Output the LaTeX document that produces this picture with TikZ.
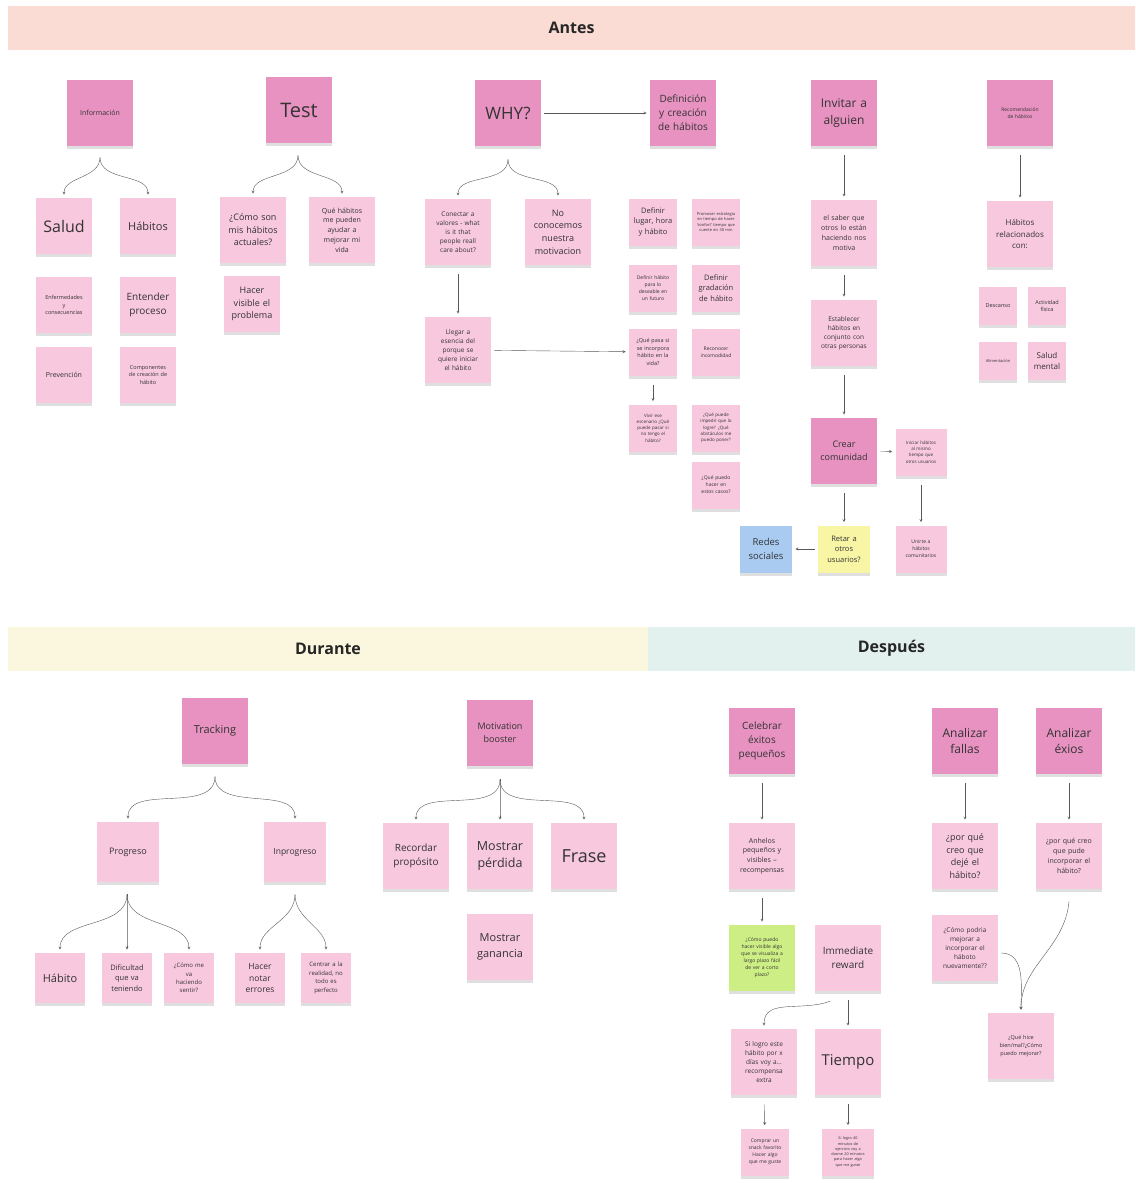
\documentclass[tikz,border=0pt]{standalone}
\usepackage{fontspec}
\setmainfont{Open Sans}
\usepackage{tikz}
\usetikzlibrary{arrows,positioning,calc,shadows}

\definecolor{hdrpink}{HTML}{E792C0}
\definecolor{lightpink}{HTML}{F8C8DE}
\definecolor{noteyellow}{HTML}{F8F5A5}
\definecolor{noteblue}{HTML}{A9CBF2}
\definecolor{notegreen}{HTML}{CDEE85}
\definecolor{antesbg}{HTML}{FADCD5}
\definecolor{durantebg}{HTML}{FBF7DF}
\definecolor{despuesbg}{HTML}{E3F1EE}

\newcommand{\fsz}[1]{\fontsize{#1}{\the\dimexpr #1pt*7/5\relax}\selectfont}

\begin{document}
\begin{tikzpicture}[x=1pt, y=-1pt, >=stealth, semithick]
\tikzstyle{note}=[fill=lightpink, minimum width=66pt, minimum height=66pt, text width=58pt, align=center, inner sep=2pt, text=black!80, drop shadow={opacity=0.25, shadow xshift=0pt, shadow yshift=-3pt}]
\tikzstyle{hnote}=[note, fill=hdrpink]
\tikzstyle{mid}=[note, minimum width=56pt, minimum height=56pt, text width=50pt]
\tikzstyle{small}=[note, minimum width=48pt, minimum height=47pt, text width=42pt]
\tikzstyle{tiny}=[note, minimum width=38pt, minimum height=38pt, text width=34pt]
\tikzstyle{banner}=[minimum height=44pt, font=\fsz{16}\bfseries, text=black!85]
\tikzstyle{flow}=[->, draw=black!65, thin, shorten <=9pt, shorten >=3pt]
\tikzstyle{side}=[->, draw=black!65, thin, shorten <=3pt, shorten >=3pt]
\tikzstyle{fork}=[->, draw=black!65, thin, out=-90, in=90, shorten >=3pt]

\useasboundingbox (0,0) rectangle (1135,1183);
\fill[white] (0,0) rectangle (1135,1183);

% section headers
\node[banner, fill=antesbg, minimum width=1127pt] (antes) at (571.5,27.5) {Antes};
\node[banner, fill=durantebg, minimum width=640pt] (durante) at (328,648.5) {Durante};
\node[banner, fill=despuesbg, minimum width=487pt] (despues) at (891.5,648.5) {Después};

% Antes: informacion
\node[hnote, font=\fsz{7}] (info) at (100,113) {Información};
\node[mid, font=\fsz{16}] (salud) at (64,226) {Salud};
\node[mid, font=\fsz{11}] (habitos) at (148,226) {Hábitos};
\node[mid, font=\fsz{5.5}] (enferm) at (64,305) {Enfermedades\\y\\consecuencias};
\node[mid, font=\fsz{10}] (entender) at (148,305) {Entender\\proceso};
\node[mid, font=\fsz{7}] (prevencion) at (64,375) {Prevención};
\node[mid, font=\fsz{5.5}] (componentes) at (148,375) {Componentes\\de creación de\\hábito};

% Antes: test
\node[hnote, font=\fsz{20}] (test) at (299,110) {Test};
\node[note, font=\fsz{9}] (comoson) at (253,230) {¿Cómo son\\mis hábitos\\actuales?};
\node[note, font=\fsz{7}] (quehabitos) at (342,230) {Qué hábitos\\me pueden\\ayudar a\\mejorar mi\\vida};
\node[mid, font=\fsz{9}] (visible) at (252,304) {Hacer\\visible el\\problema};

% Antes: why
\node[hnote, font=\fsz{17}] (why) at (508,113) {WHY?};
\node[hnote, font=\fsz{10}] (defin) at (683,113) {Definición\\y creación\\de hábitos};
\node[note, font=\fsz{6.5}] (conectar) at (458,232) {Conectar a\\valores - what\\is it that\\people reall\\care about?};
\node[note, font=\fsz{9}] (noconocemos) at (558,232) {No\\conocemos\\nuestra\\motivacion};
\node[note, font=\fsz{6.5}] (llegar) at (458,350) {Llegar a\\esencia del\\porque se\\quiere iniciar\\el hábito};

% Antes: definicion
\node[small, font=\fsz{7.5}] (deflugar) at (653,222) {Definir\\lugar, hora\\y hábito};
\node[small, font=\fsz{4}] (promover) at (716,222) {Promover estrategia\\en tiempo de hacer\\‘confort’ tiempo que\\cuente en 30 min};
\node[small, font=\fsz{5}] (defhabito) at (653,288) {Definir hábito\\para lo\\deseable en\\un futuro};
\node[small, font=\fsz{7.5}] (gradacion) at (716,288) {Definir\\gradación\\de hábito};
\node[small, font=\fsz{5.5}] (quepasa) at (653,352) {¿Qué pasa si\\se incorpora\\hábito en la\\vida?};
\node[small, font=\fsz{5}] (incomodidad) at (716,352) {Reconocer\\incomodidad};
\node[small, font=\fsz{4.5}] (vivir) at (653,428) {Vivir ese\\escenario ¿Qué\\puede pasar si\\no tengo el\\hábito?};
\node[small, font=\fsz{4.5}] (impedir) at (716,428) {¿Qué puede\\impedir que lo\\logre? ¿Qué\\obstáculos me\\puedo poner?};
\node[small, font=\fsz{5}] (quepuedo) at (716,485) {¿Qué puedo\\hacer en\\estos casos?};

% Antes: invitar
\node[hnote, font=\fsz{12}] (invitar) at (844,113) {Invitar a\\alguien};
\node[note, font=\fsz{7}] (saber) at (844,233) {el saber que\\otros lo están\\haciendo nos\\motiva};
\node[note, font=\fsz{6.5}] (establecer) at (844,333) {Establecer\\hábitos en\\conjunto con\\otras personas};
\node[hnote, font=\fsz{9}] (crear) at (844,451) {Crear\\comunidad};
\node[small, minimum width=51pt, font=\fsz{4.5}] (iniciar) at (921,452) {Iniciar hábitos\\al mismo\\tiempo que\\otros usuarios};
\node[small, minimum width=51pt, font=\fsz{5}] (unirte) at (921,549) {Unirte a\\hábitos\\comunitarios};
\node[small, minimum width=52pt, fill=noteyellow, font=\fsz{7.5}] (retar) at (844,549) {Retar a\\otros\\usuarios?};
\node[small, minimum width=52pt, fill=noteblue, font=\fsz{9.5}] (redes) at (766,549) {Redes\\sociales};

% Antes: recomendacion
\node[hnote, font=\fsz{5}] (recom) at (1020,113) {Recomendación\\de hábitos};
\node[note, font=\fsz{8}] (relacionados) at (1020,234) {Hábitos\\relacionados\\con:};
\node[tiny, font=\fsz{5.5}] (descanso) at (998,306) {Descanso};
\node[tiny, font=\fsz{5.5}] (actividad) at (1047,306) {Actividad\\física};
\node[tiny, font=\fsz{4}] (alimentacion) at (998,361) {Alimentación};
\node[tiny, font=\fsz{8}] (saludmental) at (1047,361) {Salud\\mental};

% Durante: tracking
\node[hnote, font=\fsz{11}] (tracking) at (215,731) {Tracking};
\node[note, minimum width=58pt, minimum height=60pt, font=\fsz{9}] (progreso) at (128,852) {Progreso};
\node[note, minimum width=58pt, minimum height=60pt, font=\fsz{8.5}] (inprogreso) at (295,852) {Inprogreso};
\node[small, minimum width=50pt, minimum height=50pt, font=\fsz{11}] (habito) at (60,978) {Hábito};
\node[small, minimum width=50pt, minimum height=50pt, font=\fsz{7.5}] (dificultad) at (127,978) {Dificultad\\que va\\teniendo};
\node[small, minimum width=50pt, minimum height=50pt, font=\fsz{6}] (comome) at (189,978) {¿Cómo me\\va\\haciendo\\sentir?};
\node[small, minimum width=50pt, minimum height=50pt, font=\fsz{8.5}] (notar) at (260,978) {Hacer\\notar\\errores};
\node[small, minimum width=50pt, minimum height=50pt, font=\fsz{6}] (centrar) at (326,978) {Centrar a la\\realidad, no\\todo es\\perfecto};

% Durante: motivation
\node[hnote, font=\fsz{9}] (motiv) at (500,733) {Motivation\\booster};
\node[note, font=\fsz{10}] (recordar) at (416,856) {Recordar\\propósito};
\node[note, font=\fsz{12.5}] (perdida) at (500,856) {Mostrar\\pérdida};
\node[note, font=\fsz{18}] (frase) at (584,856) {Frase};
\node[note, font=\fsz{11}] (ganancia) at (500,947) {Mostrar\\ganancia};

% Despues: celebrar
\node[hnote, font=\fsz{10}] (celebrar) at (762,741) {Celebrar\\éxitos\\pequeños};
\node[note, font=\fsz{7}] (anhelos) at (762,856) {Anhelos\\pequeños y\\visibles --\\recompensas};
\node[note, fill=notegreen, font=\fsz{5}] (comopuedo) at (762,958) {¿Cómo puedo\\hacer visible algo\\que se visualiza a\\largo plazo fácil\\de ver a corto\\plazo?};
\node[note, font=\fsz{10}] (immediate) at (848,958) {Immediate\\reward};
\node[note, font=\fsz{6.5}] (silogro) at (764,1062) {Si logro este\\hábito por x\\días voy a...\\recompensa\\extra};
\node[note, font=\fsz{15}] (tiempo) at (848,1062) {Tiempo};
\node[small, font=\fsz{5}] (comprar) at (765,1152) {Comprar un\\snack favorito\\Hacer algo\\que me guste};
\node[small, minimum width=52pt, font=\fsz{3.8}] (silogrocuarenta) at (848,1152) {Si logro 40\\minutos de\\ejercicio voy a\\darme 20 minutos\\para hacer algo\\que me guste};

% Despues: analizar
\node[hnote, font=\fsz{12}] (fallas) at (965,741) {Analizar\\fallas};
\node[note, font=\fsz{9}] (porquedeje) at (965,856) {¿por qué\\creo que\\dejé el\\hábito?};
\node[hnote, font=\fsz{12}] (exios) at (1069,741) {Analizar\\éxios};
\node[note, font=\fsz{7}] (porquepude) at (1069,856) {¿por qué creo\\que pude\\incorporar el\\hábito?};
\node[note, font=\fsz{6.5}] (comopodria) at (965,948) {¿Cómo podria\\mejorar a\\incorporar el\\háboto\\nuevamente??};
\node[note, font=\fsz{5.5}] (quehice) at (1021,1046) {¿Qué hice\\bien/mal?¿Cómo\\puedo mejorar?};

% fork points
\coordinate (infotip) at ($(info.south)+(0,11)$);
\coordinate (testtip) at ($(test.south)+(-1,12)$);
\coordinate (whytip) at ($(why.south)+(0,13)$);
\coordinate (tracktip) at ($(tracking.south)+(0,12)$);
\coordinate (progtip) at ($(progreso.south)+(-1,12)$);
\coordinate (inprogtip) at ($(inprogreso.south)+(0,12)$);
\coordinate (motivtip) at ($(motiv.south)+(0,13)$);
\coordinate (rewardtip) at ($(immediate.south)+(-18,10)$);
\coordinate (podriatip) at ($(comopodria.east)+(3,5)$);
\coordinate (pudetip) at ($(porquepude.south)+(0,12)$);

\path
(infotip) edge[fork] (salud)
          edge[fork] (habitos)
(testtip) edge[fork] (comoson)
          edge[fork] (quehabitos)
(whytip)  edge[fork] (conectar)
          edge[fork] (noconocemos)
(tracktip) edge[fork] (progreso)
           edge[fork] (inprogreso)
(progtip) edge[fork] (habito)
          edge[fork] (dificultad)
          edge[fork] (comome)
(inprogtip) edge[fork] (notar)
            edge[fork] (centrar)
(motivtip) edge[fork] (recordar)
           edge[fork] (perdida)
           edge[fork] (frase);

\path
(why) edge[side] (defin)
(conectar) edge[flow] (llegar)
(llegar) edge[side] (quepasa)
(quepasa) edge[flow] (vivir)
(invitar) edge[flow] (saber)
(saber) edge[flow] (establecer)
(establecer) edge[flow] (crear)
(crear) edge[side] (iniciar)
        edge[flow] (retar)
(iniciar) edge[flow] (unirte)
(retar) edge[side] (redes)
(recom) edge[flow] (relacionados)
(celebrar) edge[flow] (anhelos)
(anhelos) edge[flow] (comopuedo)
(immediate) edge[flow] (tiempo)
(silogro) edge[flow] (comprar)
(tiempo) edge[flow] (silogrocuarenta)
(fallas) edge[flow] (porquedeje)
(exios) edge[flow] (porquepude);

\path
(rewardtip) edge[fork, out=-160, looseness=1.1] (silogro)
(podriatip) edge[fork, out=0] (quehice)
(pudetip) edge[fork, out=-95] (quehice);
\end{tikzpicture}
\end{document}
